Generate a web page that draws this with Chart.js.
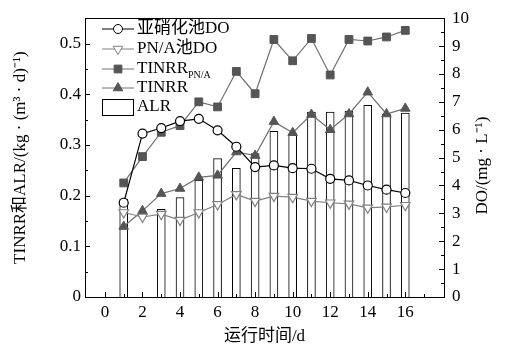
<!DOCTYPE html>
<html>
<head>
<meta charset="utf-8">
<script src="https://cdn.jsdelivr.net/npm/chart.js@4.4.0/dist/chart.umd.min.js"></script>
<style>
  body { margin: 0; background: #fff; }
  canvas { display: block; }
</style>
</head>
<body>
<canvas id="myChart" width="506" height="353"></canvas>
<script>
// data
const days = [1, 2, 3, 4, 5, 6, 7, 8, 9, 10, 11, 12, 13, 14, 15, 16];
const alr = [0.193, null, 0.173, 0.196, 0.230, 0.273, 0.254, 0.283, 0.327, 0.322, 0.365, 0.365, 0.367, 0.378, 0.361, 0.363];
const tinrrPNA = [0.225, 0.277, 0.325, 0.338, 0.385, 0.375, 0.445, 0.401, 0.508, 0.466, 0.510, 0.438, 0.508, 0.505, 0.513, 0.526];
const tinrr = [0.139, 0.170, 0.204, 0.214, 0.236, 0.240, 0.286, 0.279, 0.346, 0.324, 0.360, 0.330, 0.361, 0.404, 0.361, 0.372];
const doNitri = [3.38, 5.86, 6.06, 6.31, 6.39, 5.98, 5.39, 4.66, 4.72, 4.62, 4.60, 4.24, 4.18, 4.00, 3.85, 3.73];
const doPNA = [3.03, 2.87, 2.97, 2.76, 3.03, 3.32, 3.68, 3.44, 3.62, 3.58, 3.44, 3.38, 3.34, 3.20, 3.23, 3.29];

const leftTicks = [0, 0.1, 0.2, 0.3, 0.4, 0.5];
const rightTicks = [0, 1, 2, 3, 4, 5, 6, 7, 8, 9, 10];
const xTicks = [0, 2, 4, 6, 8, 10, 12, 14, 16];

const FONT = "'Liberation Serif', 'Noto Sans CJK SC', serif";

function pts(arr) {
  var out = [];
  for (var i = 0; i < days.length; i++) {
    out.push({ x: days[i], y: arr[i] });
  }
  return out;
}

// inward ticks + frame + right axis title (reads bottom to top)
const frame = {
  id: 'frame',
  afterDraw(chart) {
    const ctx = chart.ctx;
    const a = chart.chartArea;
    const sx = chart.scales.x, sy = chart.scales.y, sy1 = chart.scales.y1;
    ctx.save();
    ctx.strokeStyle = '#000';
    ctx.lineWidth = 1;
    ctx.strokeRect(Math.round(a.left) + 0.5, Math.round(a.top) + 0.5, Math.round(a.right - a.left), Math.round(a.bottom - a.top));
    ctx.beginPath();
    for (var v = 0; v <= 17; v++) {
      var px = Math.round(sx.getPixelForValue(v)) + 0.5;
      var len = v % 2 == 0 ? 5 : 3;
      ctx.moveTo(px, a.bottom);
      ctx.lineTo(px, a.bottom - len);
    }
    for (var k = 0; k <= 11; k++) {
      var py = Math.round(sy.getPixelForValue(k * 0.05)) + 0.5;
      ctx.moveTo(a.left, py);
      ctx.lineTo(a.left + (k % 2 == 0 ? 5 : 3), py);
    }
    for (var j = 0; j <= 20; j++) {
      var py1 = Math.round(sy1.getPixelForValue(j * 0.5)) + 0.5;
      ctx.moveTo(a.right, py1);
      ctx.lineTo(a.right - (j % 2 == 0 ? 5 : 3), py1);
    }
    ctx.stroke();

    ctx.translate(483, (a.top + a.bottom) / 2 + 8);
    ctx.rotate(-Math.PI / 2);
    ctx.fillStyle = '#000';
    ctx.font = '17px ' + FONT;
    ctx.textAlign = 'center';
    ctx.textBaseline = 'middle';
    ctx.fillText('DO/(mg · L⁻¹)', 0, 0);
    ctx.restore();
  }
};

// legend drawn inside the plot, top-left
const legendBox = {
  id: 'legendBox',
  afterDraw(chart) {
    const ctx = chart.ctx;
    const a = chart.chartArea;
    const x0 = a.left + 17, x1 = a.left + 49, xm = a.left + 33, tx = a.left + 52;
    const rows = [
      { y: 29, text: '亚硝化池DO', line: '#000', fill: '#fff', stroke: '#000', style: 'circle', r: 4.5, rot: 0 },
      { y: 49, text: 'PN/A池DO', line: '#808080', fill: '#fff', stroke: '#808080', style: 'triangle', r: 5.5, rot: 180 },
      { y: 69, text: 'TINRR', sub: 'PN/A', line: '#707070', fill: '#555', stroke: '#555', style: 'rect', r: 5.5, rot: 0 },
      { y: 88, text: 'TINRR', line: '#707070', fill: '#555', stroke: '#555', style: 'triangle', r: 5.5, rot: 0 }
    ];
    ctx.save();
    ctx.font = '17px ' + FONT;
    ctx.textBaseline = 'middle';
    ctx.fillStyle = '#000';
    rows.forEach(function (r) {
      ctx.strokeStyle = r.line;
      ctx.lineWidth = 1;
      ctx.beginPath();
      ctx.moveTo(x0, r.y);
      ctx.lineTo(x1, r.y);
      ctx.stroke();
      ctx.fillStyle = r.fill;
      ctx.strokeStyle = r.stroke;
      Chart.helpers.drawPoint(ctx, { pointStyle: r.style, radius: r.r, rotation: r.rot, borderWidth: 1 }, xm, r.y);
      ctx.fillStyle = '#000';
      ctx.font = '17px ' + FONT;
      ctx.fillText(r.text, tx, r.y);
      if (r.sub) {
        var w = ctx.measureText(r.text).width;
        ctx.font = '10px ' + FONT;
        ctx.fillText(r.sub, tx + w, r.y + 6);
      }
    });
    // ALR box
    ctx.strokeStyle = '#000';
    ctx.fillStyle = '#fff';
    ctx.fillRect(x0 + 0.5, 99.5, 31, 16);
    ctx.strokeRect(x0 + 0.5, 99.5, 31, 16);
    ctx.fillStyle = '#000';
    ctx.font = '17px ' + FONT;
    ctx.fillText('ALR', tx, 107);
    ctx.restore();
  }
};

var ctx = document.getElementById('myChart').getContext('2d');
var myChart = new Chart(ctx, {
  type: 'bar',
  data: {
    datasets: [
      {
        type: 'line',
        label: '亚硝化池DO',
        data: pts(doNitri),
        yAxisID: 'y1',
        borderColor: '#000',
        borderWidth: 1.2,
        pointStyle: 'circle',
        pointRadius: 4.5,
        pointBackgroundColor: '#fff',
        pointBorderColor: '#000',
        pointBorderWidth: 1.2,
        order: 1
      },
      {
        type: 'line',
        label: 'PN/A池DO',
        data: pts(doPNA),
        yAxisID: 'y1',
        borderColor: '#808080',
        borderWidth: 1.2,
        pointStyle: 'triangle',
        pointRotation: 180,
        pointRadius: 5.5,
        pointBackgroundColor: '#fff',
        pointBorderColor: '#808080',
        pointBorderWidth: 1.2,
        order: 2
      },
      {
        type: 'line',
        label: 'TINRR_PN/A',
        data: pts(tinrrPNA),
        yAxisID: 'y',
        borderColor: '#707070',
        borderWidth: 1.2,
        pointStyle: 'rect',
        pointRadius: 5.5,
        pointBackgroundColor: '#555',
        pointBorderColor: '#555',
        pointBorderWidth: 1,
        order: 3
      },
      {
        type: 'line',
        label: 'TINRR',
        data: pts(tinrr),
        yAxisID: 'y',
        borderColor: '#707070',
        borderWidth: 1.2,
        pointStyle: 'triangle',
        pointRadius: 5.5,
        pointBackgroundColor: '#555',
        pointBorderColor: '#555',
        pointBorderWidth: 1,
        order: 4
      },
      {
        type: 'bar',
        label: 'ALR',
        data: pts(alr),
        yAxisID: 'y',
        backgroundColor: '#fff',
        borderColor: '#000',
        borderWidth: 1,
        barThickness: 8,
        order: 10
      }
    ]
  },
  options: {
    responsive: false,
    animation: false,
    devicePixelRatio: 1,
    layout: { padding: { top: 16, left: 0, right: 0, bottom: 0 } },
    plugins: { legend: { display: false }, tooltip: { enabled: false } },
    scales: {
      x: {
        type: 'linear',
        min: 0,
        max: 17,
        grid: { display: false, drawTicks: false },
        border: { display: false },
        afterBuildTicks: function (s) { s.ticks = xTicks.map(function (v) { return { value: v }; }); },
        ticks: { color: '#000', font: { family: FONT, size: 17 }, padding: 5, maxRotation: 0, autoSkip: false },
        title: { display: true, text: '运行时间/d', color: '#000', font: { family: FONT, size: 17 }, padding: { top: 0, bottom: 6 } },
        afterFit: function (s) { s.height = 56; }
      },
      y: {
        position: 'left',
        min: 0,
        max: 0.55,
        grid: { display: false, drawTicks: false },
        border: { display: false },
        afterBuildTicks: function (s) { s.ticks = leftTicks.map(function (v) { return { value: v }; }); },
        ticks: {
          color: '#000', font: { family: FONT, size: 17 }, padding: 4,
          callback: function (v) { return v == 0 ? '0' : v.toFixed(1); }
        },
        title: { display: true, text: 'TINRR和ALR/(kg · (m³ · d)⁻¹)', color: '#000', font: { family: FONT, size: 17 }, padding: { top: 10, bottom: 0 } },
        afterFit: function (s) { s.width = 85; }
      },
      y1: {
        position: 'right',
        min: 0,
        max: 10,
        grid: { display: false, drawTicks: false },
        border: { display: false },
        afterBuildTicks: function (s) { s.ticks = rightTicks.map(function (v) { return { value: v }; }); },
        ticks: { color: '#000', font: { family: FONT, size: 17 }, padding: 8 },
        title: { display: false },
        afterFit: function (s) { s.width = 62; }
      }
    }
  },
  plugins: [frame, legendBox]
});
</script>
</body>
</html>
